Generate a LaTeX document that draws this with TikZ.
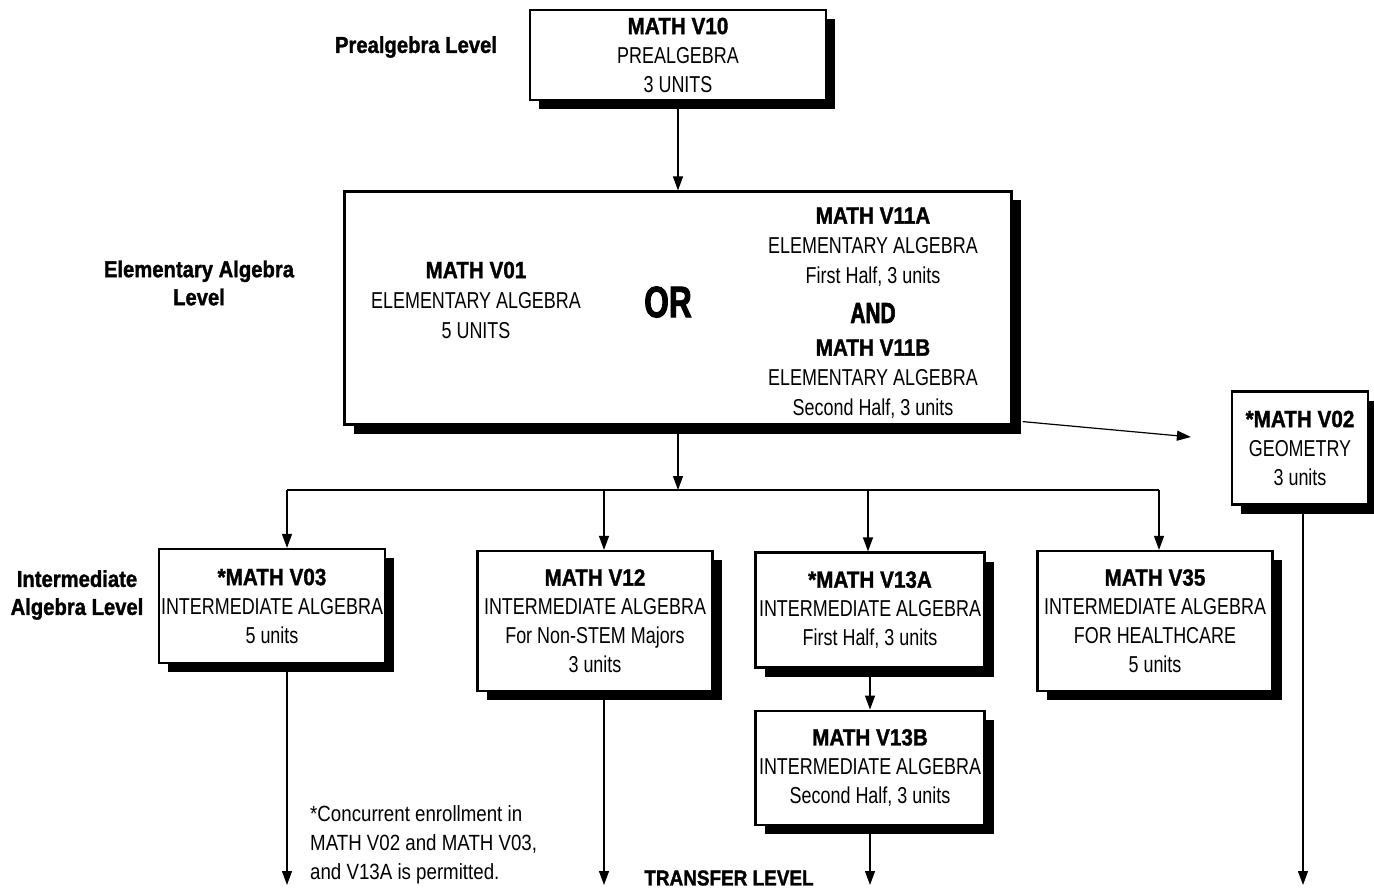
\documentclass[tikz,border=0pt]{standalone}
\usepackage{fontspec}
\setmainfont{Liberation Sans}[FakeStretch=0.78]
\newfontfamily\notefont{Liberation Sans}[FakeStretch=0.85]
\newfontfamily\heavy{Liberation Sans Bold}[FakeStretch=0.88, FakeBold=1.4]
\newfontfamily\heavycn{Liberation Sans Bold}[FakeStretch=0.72, FakeBold=2]
\usetikzlibrary{arrows.meta,shadows,positioning}

\begin{document}
\begin{tikzpicture}[
    x=1pt, y=-1pt,
    course/.style={draw, line width=2.2pt, fill=white, align=center, inner sep=0pt,
        font=\fontsize{23}{29}\selectfont,
        drop shadow={shadow xshift=9pt, shadow yshift=-9pt, fill=black, opacity=1}},
    txt/.style={align=center, inner sep=0pt, font=\fontsize{23}{30}\selectfont},
    level/.style={align=center, inner sep=0pt, font=\heavy\fontsize{23}{28}\selectfont},
    arr/.style={line width=1.2pt, -{Triangle[width=10pt,length=14pt]}},
    link/.style={line width=1.2pt}
]
    \useasboundingbox (0,0) rectangle (1374,893);

    % Prealgebra
    \node[level] (lpre) at (416,47) {Prealgebra Level};
    \node[course, minimum width=296pt, minimum height=90pt] (v10) at (678,55)
        {{\heavy\fontsize{23.5}{29}\selectfont MATH V10}\\PREALGEBRA\\3 UNITS};

    % Elementary algebra
    \node[level] (lelem) at (199,283) {Elementary Algebra\\Level};
    \node[course, minimum width=667pt, minimum height=233pt] (elem) at (678,308) {};
    \node[txt] (v01) at (476,300) {{\heavy\fontsize{23.5}{30}\selectfont MATH V01}\\ELEMENTARY ALGEBRA\\5 UNITS};
    \node[txt, font=\heavycn\fontsize{44}{44}\selectfont] (or) at (668,302) {OR};
    \node[txt] (v11a) at (873,247) {{\heavy\fontsize{23.5}{30}\selectfont MATH V11A}\\ELEMENTARY ALGEBRA\\First Half, 3 units};
    \node[txt, font=\heavycn\fontsize{29}{29}\selectfont] (and) at (873,313) {AND};
    \node[txt] (v11b) at (873,379) {{\heavy\fontsize{23.5}{30}\selectfont MATH V11B}\\ELEMENTARY ALGEBRA\\Second Half, 3 units};

    \node[course, minimum width=136pt, minimum height=113pt] (v02) at (1300,448)
        {{\heavy\fontsize{23.5}{29}\selectfont *MATH V02}\\GEOMETRY\\3 units};

    % Intermediate algebra
    \node[level] (linter) at (77,595) {Intermediate\\Algebra Level};
    \node[course, minimum width=226pt, minimum height=114pt] (v03) at (272,606)
        {{\heavy\fontsize{23.5}{29}\selectfont *MATH V03}\\INTERMEDIATE ALGEBRA\\5 units};
    \node[course, minimum width=235pt, minimum height=140pt] (v12) at (595,621)
        {{\heavy\fontsize{23.5}{29}\selectfont MATH V12}\\INTERMEDIATE ALGEBRA\\For Non-STEM Majors\\3 units};
    \node[course, minimum width=229pt, minimum height=115pt] (v13a) at (870,610)
        {{\heavy\fontsize{23.5}{29}\selectfont *MATH V13A}\\INTERMEDIATE ALGEBRA\\First Half, 3 units};
    \node[course, minimum width=235pt, minimum height=140pt] (v35) at (1155,621)
        {{\heavy\fontsize{23.5}{29}\selectfont MATH V35}\\INTERMEDIATE ALGEBRA\\FOR HEALTHCARE\\5 units};
    \node[course, minimum width=229pt, minimum height=114pt, below=41pt of v13a] (v13b)
        {{\heavy\fontsize{23.5}{29}\selectfont MATH V13B}\\INTERMEDIATE ALGEBRA\\Second Half, 3 units};

    \node[anchor=west, align=left, inner sep=0pt, font=\notefont\fontsize{22}{29}\selectfont] (note) at (310,845)
        {*Concurrent enrollment in\\MATH V02 and MATH V03,\\and V13A is permitted.};
    \node[inner sep=0pt, font=\heavy\fontsize{21.5}{24}\selectfont] (transfer) at (729,878) {TRANSFER LEVEL};

    % Connectors
    \coordinate (b1) at (287,490);
    \coordinate (b2) at (604,490);
    \coordinate (b3) at (868,490);
    \coordinate (b4) at (1159,490);
    \coordinate (bot) at (0,885);

    \draw[arr] (v10.south) -- (v10.south |- elem.north);
    \draw[arr] (elem.south) -- (elem.south |- b1);
    \draw[arr] ([xshift=10pt,yshift=4pt]elem.south east) -- ([xshift=-40pt,yshift=11pt]v02.west);
    \draw[link] (b1) -- (b4);
    \foreach \b/\n in {b1/v03, b2/v12, b3/v13a, b4/v35}
        \draw[arr] (\b) -- (\b |- \n.north);
    \draw[arr] (v13a.south) -- (v13b.north);

    \draw[arr] (b1 |- v03.south) -- (b1 |- bot);
    \draw[arr] (b2 |- v12.south) -- (b2 |- bot);
    \draw[arr] (v13b.south) -- (v13b.south |- bot);
    \draw[arr] ([xshift=3pt]v02.south) -- ([xshift=3pt]v02.south |- bot);
\end{tikzpicture}
\end{document}
